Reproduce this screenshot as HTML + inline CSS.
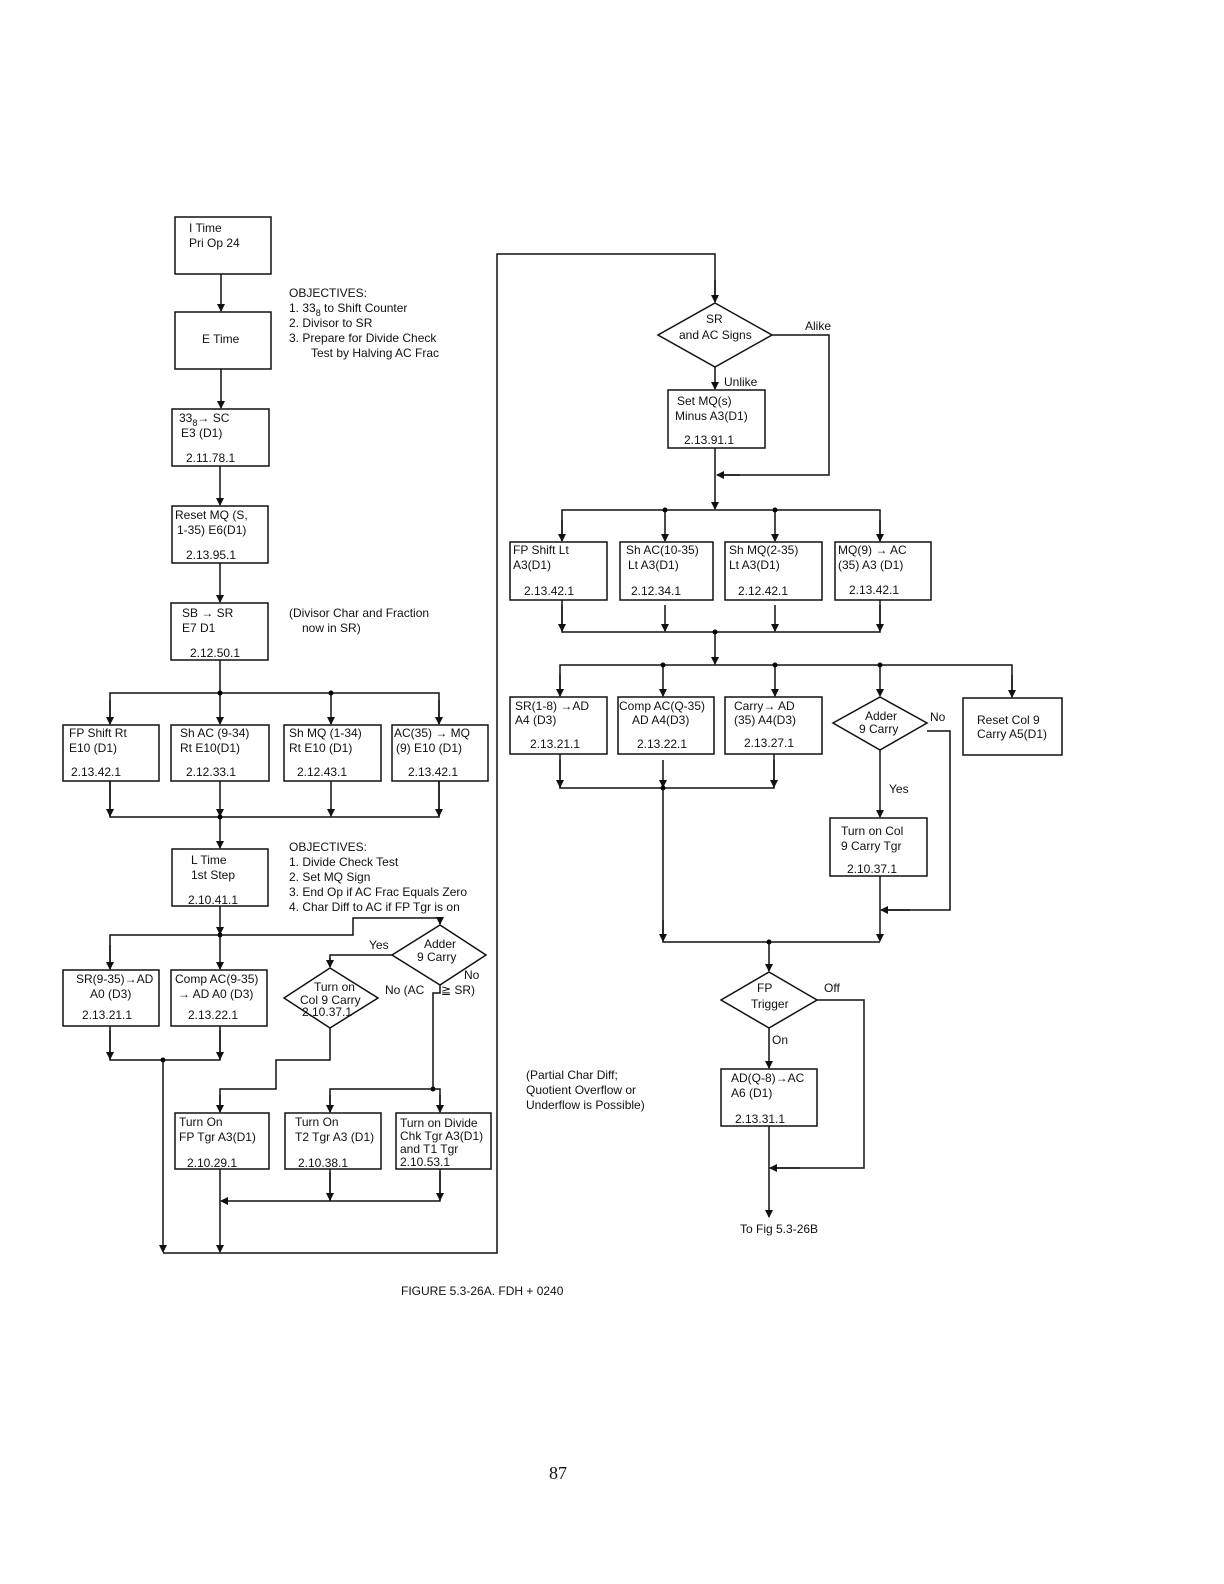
<!DOCTYPE html>
<html><head><meta charset="utf-8"><style>
html,body{margin:0;padding:0;background:#fff;overflow:hidden;width:1224px;height:1584px}
svg{display:block;position:absolute;left:0;top:0}
text{font-family:"Liberation Sans",sans-serif;font-size:12px;fill:#111}
.b{fill:#fff;stroke:#111;stroke-width:1.5}
.l{fill:none;stroke:#111;stroke-width:1.5}
</style></head><body>
<svg width="1224" height="1584" viewBox="0 0 1224 1584">
<defs><marker id="a" markerWidth="8" markerHeight="10" refX="7" refY="5" orient="auto" markerUnits="userSpaceOnUse"><path d="M0,1 L8,5 L0,9 Z" fill="#111"/></marker></defs>

<!-- LEFT COLUMN -->
<rect class="b" x="175" y="217" width="96" height="57"/>
<text x="189" y="232">I Time</text><text x="189" y="247">Pri Op 24</text>
<line class="l" x1="221" y1="274" x2="221" y2="311" marker-end="url(#a)"/>
<rect class="b" x="175" y="312" width="96" height="57"/>
<text x="202" y="343">E Time</text>
<line class="l" x1="221" y1="369" x2="221" y2="408" marker-end="url(#a)"/>
<rect class="b" x="172" y="409" width="97" height="57"/>
<text x="179" y="422">33<tspan font-size="9" dy="4">8</tspan><tspan dy="-4">→ SC</tspan></text><text x="181" y="437">E3 (D1)</text><text x="186" y="462">2.11.78.1</text>
<line class="l" x1="220" y1="466" x2="220" y2="505" marker-end="url(#a)"/>
<rect class="b" x="172" y="506" width="96" height="57"/>
<text x="175" y="519">Reset MQ (S,</text><text x="177" y="534">1-35) E6(D1)</text><text x="186" y="559">2.13.95.1</text>
<line class="l" x1="220" y1="563" x2="220" y2="602" marker-end="url(#a)"/>
<rect class="b" x="171" y="603" width="97" height="57"/>
<text x="182" y="617">SB → SR</text><text x="182" y="632">E7    D1</text><text x="190" y="657">2.12.50.1</text>

<text x="289" y="297">OBJECTIVES:</text>
<text x="289" y="312">1.  33<tspan font-size="9" dy="4">8</tspan><tspan dy="-4"> to Shift Counter</tspan></text>
<text x="289" y="327">2.  Divisor to SR</text>
<text x="289" y="342">3.  Prepare for Divide Check</text>
<text x="311" y="357">Test by Halving AC Frac</text>
<text x="289" y="617">(Divisor Char and Fraction</text>
<text x="302" y="632">now in SR)</text>

<line class="l" x1="220" y1="660" x2="220" y2="724" marker-end="url(#a)"/>
<polyline class="l" points="110,724 110,693 439,693 439,724"/>
<line class="l" x1="110" y1="700" x2="110" y2="724" marker-end="url(#a)"/>
<line class="l" x1="439" y1="700" x2="439" y2="724" marker-end="url(#a)"/>
<line class="l" x1="331" y1="693" x2="331" y2="724" marker-end="url(#a)"/>
<circle cx="220" cy="693" r="2.5"/><circle cx="331" cy="693" r="2.5"/>
<rect class="b" x="63" y="725" width="96" height="56"/><text x="69" y="737">FP Shift Rt</text><text x="69" y="752">E10 (D1)</text><text x="71" y="776">2.13.42.1</text>
<rect class="b" x="171" y="725" width="98" height="56"/><text x="180" y="737">Sh AC (9-34)</text><text x="180" y="752">Rt E10(D1)</text><text x="186" y="776">2.12.33.1</text>
<rect class="b" x="284" y="725" width="97" height="56"/><text x="289" y="737">Sh MQ (1-34)</text><text x="289" y="752">Rt E10 (D1)</text><text x="297" y="776">2.12.43.1</text>
<rect class="b" x="392" y="725" width="96" height="56"/><text x="394" y="737">AC(35)  → MQ</text><text x="396" y="752">(9) E10 (D1)</text><text x="408" y="776">2.13.42.1</text>
<polyline class="l" points="110,781 110,817 439,817 439,781"/>
<line class="l" x1="110" y1="781" x2="110" y2="816" marker-end="url(#a)"/>
<line class="l" x1="220" y1="781" x2="220" y2="816" marker-end="url(#a)"/>
<line class="l" x1="331" y1="781" x2="331" y2="816" marker-end="url(#a)"/>
<line class="l" x1="439" y1="781" x2="439" y2="816" marker-end="url(#a)"/>
<circle cx="220" cy="817" r="2.5"/>
<line class="l" x1="220" y1="817" x2="220" y2="848" marker-end="url(#a)"/>
<rect class="b" x="172" y="849" width="96" height="57"/><text x="191" y="864">L Time</text><text x="191" y="879">1st Step</text><text x="188" y="904">2.10.41.1</text>
<text x="289" y="851">OBJECTIVES:</text>
<text x="289" y="866">1.  Divide Check Test</text>
<text x="289" y="881">2.  Set MQ Sign</text>
<text x="289" y="896">3.  End Op if  AC  Frac Equals Zero</text>
<text x="289" y="911">4.  Char Diff to AC  if FP Tgr is on</text>

<line class="l" x1="220" y1="906" x2="220" y2="934" marker-end="url(#a)"/>
<circle cx="220" cy="935" r="2.5"/>
<polyline class="l" points="110,969 110,935 353,935 353,918 440,918 440,924" />
<line class="l" x1="440" y1="918" x2="440" y2="924" marker-end="url(#a)"/>
<line class="l" x1="110" y1="945" x2="110" y2="969" marker-end="url(#a)"/>
<line class="l" x1="220" y1="935" x2="220" y2="969" marker-end="url(#a)"/>
<rect class="b" x="63" y="970" width="96" height="56"/><text x="76" y="983">SR(9-35)→AD</text><text x="90" y="998">A0 (D3)</text><text x="82" y="1019">2.13.21.1</text>
<rect class="b" x="171" y="970" width="96" height="56"/><text x="175" y="983">Comp AC(9-35)</text><text x="178" y="998">→ AD A0 (D3)</text><text x="188" y="1019">2.13.22.1</text>

<polygon class="b" points="440,925 486,955 440,985 392,955"/>
<text x="424" y="948">Adder</text><text x="417" y="961">9 Carry</text>
<text x="369" y="949">Yes</text><text x="464" y="979">No</text>
<polyline class="l" points="392,955 330,955 330,966"/>
<line class="l" x1="330" y1="958" x2="330" y2="967" marker-end="url(#a)"/>
<polygon class="b" points="330,968 378,998 330,1028 284,998"/>
<text x="314" y="991">Turn on</text><text x="300" y="1004">Col 9 Carry</text><text x="302" y="1016">2.10.37.1</text>
<text x="385" y="994">No (AC</text><text x="441" y="994">≧ SR)</text>
<polyline class="l" points="440,985 440,993 433,993 433,1089"/>
<circle cx="433" cy="1089" r="2.5"/>
<polyline class="l" points="330,1112 330,1089 440,1089 440,1112"/>
<line class="l" x1="330" y1="1095" x2="330" y2="1112" marker-end="url(#a)"/>
<line class="l" x1="440" y1="1095" x2="440" y2="1112" marker-end="url(#a)"/>
<polyline class="l" points="330,1028 330,1060 276,1060 276,1089 220,1089 220,1112"/>
<line class="l" x1="220" y1="1095" x2="220" y2="1112" marker-end="url(#a)"/>
<polyline class="l" points="110,1026 110,1060 220,1060 220,1026"/>
<line class="l" x1="110" y1="1030" x2="110" y2="1059" marker-end="url(#a)"/>
<line class="l" x1="220" y1="1030" x2="220" y2="1059" marker-end="url(#a)"/>
<circle cx="163" cy="1060" r="2.5"/>
<rect class="b" x="175" y="1113" width="94" height="56"/><text x="179" y="1126">Turn On</text><text x="179" y="1141">FP Tgr  A3(D1)</text><text x="187" y="1167">2.10.29.1</text>
<rect class="b" x="285" y="1113" width="96" height="56"/><text x="295" y="1126">Turn On</text><text x="295" y="1141">T2 Tgr  A3 (D1)</text><text x="298" y="1167">2.10.38.1</text>
<rect class="b" x="396" y="1113" width="95" height="56"/><text x="400" y="1127">Turn on Divide</text><text x="400" y="1140">Chk Tgr A3(D1)</text><text x="400" y="1153">and T1 Tgr</text><text x="400" y="1166">2.10.53.1</text>
<polyline class="l" points="330,1169 330,1201 440,1201 440,1169"/>
<line class="l" x1="330" y1="1172" x2="330" y2="1200" marker-end="url(#a)"/>
<line class="l" x1="440" y1="1172" x2="440" y2="1200" marker-end="url(#a)"/>
<line class="l" x1="330" y1="1201" x2="221" y2="1201" marker-end="url(#a)"/>
<line class="l" x1="220" y1="1169" x2="220" y2="1252" marker-end="url(#a)"/>
<line class="l" x1="163" y1="1060" x2="163" y2="1252" marker-end="url(#a)"/>
<polyline class="l" points="163,1253 497,1253 497,254 715,254 715,302"/>
<line class="l" x1="715" y1="280" x2="715" y2="302" marker-end="url(#a)"/>

<!-- RIGHT -->
<polygon class="b" points="715,303 772,335 715,367 658,335"/>
<text x="706" y="323">SR</text><text x="679" y="339">and AC Signs</text>
<text x="805" y="330">Alike</text>
<polyline class="l" points="772,335 829,335 829,475 718,475"/>
<line class="l" x1="740" y1="475" x2="717" y2="475" marker-end="url(#a)"/>
<line class="l" x1="715" y1="367" x2="715" y2="389" marker-end="url(#a)"/>
<text x="724" y="386">Unlike</text>
<rect class="b" x="668" y="390" width="97" height="58"/><text x="677" y="405">Set MQ(s)</text><text x="675" y="420">Minus A3(D1)</text><text x="684" y="444">2.13.91.1</text>
<line class="l" x1="715" y1="448" x2="715" y2="509" marker-end="url(#a)"/>
<polyline class="l" points="562,541 562,510 880,510 880,541"/>
<line class="l" x1="562" y1="520" x2="562" y2="541" marker-end="url(#a)"/>
<line class="l" x1="665" y1="510" x2="665" y2="541" marker-end="url(#a)"/>
<line class="l" x1="775" y1="510" x2="775" y2="541" marker-end="url(#a)"/>
<line class="l" x1="880" y1="520" x2="880" y2="541" marker-end="url(#a)"/>
<circle cx="665" cy="510" r="2.5"/><circle cx="775" cy="510" r="2.5"/>
<rect class="b" x="510" y="542" width="97" height="58"/><text x="513" y="554">FP Shift Lt</text><text x="513" y="569">A3(D1)</text><text x="524" y="595">2.13.42.1</text>
<rect class="b" x="620" y="542" width="93" height="58"/><text x="626" y="554">Sh AC(10-35)</text><text x="628" y="569">Lt A3(D1)</text><text x="631" y="595">2.12.34.1</text>
<rect class="b" x="725" y="542" width="97" height="58"/><text x="729" y="554">Sh MQ(2-35)</text><text x="729" y="569">Lt  A3(D1)</text><text x="738" y="595">2.12.42.1</text>
<rect class="b" x="835" y="542" width="96" height="58"/><text x="838" y="554">MQ(9) → AC</text><text x="838" y="569">(35) A3 (D1)</text><text x="849" y="594">2.13.42.1</text>
<polyline class="l" points="562,600 562,632 880,632 880,600"/>
<line class="l" x1="562" y1="605" x2="562" y2="631" marker-end="url(#a)"/>
<line class="l" x1="665" y1="605" x2="665" y2="631" marker-end="url(#a)"/>
<line class="l" x1="775" y1="605" x2="775" y2="631" marker-end="url(#a)"/>
<line class="l" x1="880" y1="605" x2="880" y2="631" marker-end="url(#a)"/>
<circle cx="715" cy="632" r="2.5"/>
<line class="l" x1="715" y1="632" x2="715" y2="664" marker-end="url(#a)"/>
<polyline class="l" points="560,696 560,665 1012,665 1012,697"/>
<line class="l" x1="560" y1="675" x2="560" y2="696" marker-end="url(#a)"/>
<line class="l" x1="663" y1="665" x2="663" y2="696" marker-end="url(#a)"/>
<line class="l" x1="775" y1="665" x2="775" y2="696" marker-end="url(#a)"/>
<line class="l" x1="880" y1="665" x2="880" y2="696" marker-end="url(#a)"/>
<line class="l" x1="1012" y1="675" x2="1012" y2="697" marker-end="url(#a)"/>
<circle cx="663" cy="665" r="2.5"/><circle cx="775" cy="665" r="2.5"/><circle cx="880" cy="665" r="2.5"/>
<rect class="b" x="510" y="697" width="97" height="57"/><text x="515" y="710">SR(1-8) →AD</text><text x="515" y="724">A4 (D3)</text><text x="530" y="748">2.13.21.1</text>
<rect class="b" x="618" y="697" width="96" height="57"/><text x="619" y="710">Comp AC(Q-35)</text><text x="632" y="724">AD A4(D3)</text><text x="637" y="748">2.13.22.1</text>
<rect class="b" x="725" y="697" width="97" height="57"/><text x="734" y="710">Carry→  AD</text><text x="734" y="724">(35) A4(D3)</text><text x="744" y="747">2.13.27.1</text>
<polygon class="b" points="880,697 927,723 880,750 833,723"/>
<text x="865" y="720">Adder</text><text x="859" y="733">9 Carry</text>
<text x="930" y="721">No</text>
<rect class="b" x="963" y="698" width="99" height="57"/><text x="977" y="724">Reset Col 9</text><text x="977" y="738">Carry A5(D1)</text>
<polyline class="l" points="927,731 950,731 950,910 882,910"/>
<line class="l" x1="910" y1="910" x2="881" y2="910" marker-end="url(#a)"/>
<line class="l" x1="880" y1="750" x2="880" y2="817" marker-end="url(#a)"/>
<text x="889" y="793">Yes</text>
<rect class="b" x="830" y="818" width="97" height="58"/><text x="841" y="835">Turn on Col</text><text x="841" y="850">9  Carry Tgr</text><text x="847" y="873">2.10.37.1</text>
<line class="l" x1="880" y1="876" x2="880" y2="941" marker-end="url(#a)"/>
<polyline class="l" points="560,754 560,788 774,788 774,754"/>
<line class="l" x1="560" y1="760" x2="560" y2="787" marker-end="url(#a)"/>
<line class="l" x1="663" y1="760" x2="663" y2="787" marker-end="url(#a)"/>
<line class="l" x1="774" y1="760" x2="774" y2="787" marker-end="url(#a)"/>
<circle cx="663" cy="788" r="2.5"/>
<polyline class="l" points="663,788 663,942 880,942"/>
<line class="l" x1="663" y1="920" x2="663" y2="941" marker-end="url(#a)"/>
<circle cx="769" cy="942" r="2.5"/>
<line class="l" x1="769" y1="942" x2="769" y2="971" marker-end="url(#a)"/>
<polygon class="b" points="769,972 817,1000 769,1028 721,1000"/>
<text x="757" y="992">FP</text><text x="751" y="1008">Trigger</text>
<text x="824" y="992">Off</text>
<polyline class="l" points="817,1000 864,1000 864,1168 771,1168"/>
<line class="l" x1="800" y1="1168" x2="770" y2="1168" marker-end="url(#a)"/>
<line class="l" x1="769" y1="1028" x2="769" y2="1068" marker-end="url(#a)"/>
<text x="772" y="1044">On</text>
<rect class="b" x="721" y="1069" width="96" height="57"/><text x="731" y="1082">AD(Q-8)→AC</text><text x="731" y="1097">A6 (D1)</text><text x="735" y="1123">2.13.31.1</text>
<line class="l" x1="769" y1="1126" x2="769" y2="1217" marker-end="url(#a)"/>
<text x="740" y="1233">To Fig 5.3-26B</text>
<text x="526" y="1079">(Partial Char Diff;</text>
<text x="526" y="1094">Quotient Overflow or</text>
<text x="526" y="1109">Underflow is Possible)</text>

<text x="401" y="1295">FIGURE 5.3-26A.   FDH + 0240</text>
<text x="549" y="1479" style="font-family:'Liberation Serif',serif;font-size:18px">87</text>
</svg>
</body></html>
